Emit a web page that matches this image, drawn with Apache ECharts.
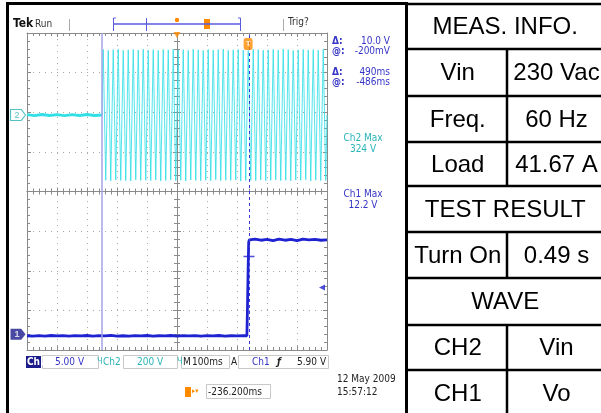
<!DOCTYPE html>
<html><head><meta charset="utf-8">
<script src="https://cdn.jsdelivr.net/npm/echarts@6/dist/echarts.min.js"></script>
<style>html,body{margin:0;padding:0;background:#fff}#c{width:601px;height:413px}</style>
</head><body><div id="c"></div>
<script>
// ---- data (screen time in ms, 100 ms/div) ----
const timeMin = 0, timeMax = 1000, timeStep = 100;
const cursorTimes = [250, 740];
const triggerTime = 737;
const triggerLevel = 5.9;          // V on Ch1
const cursorLevel = 9.8;           // V on Ch1 at cursor 2
const ch2OnTime = 250;
const ch2HalfPeriod = 8.333;       // 60 Hz
const ch2Off = [[0,2],[25,-3],[50,3],[75,-2],[100,2],[125,-3],[150,2],[175,-2],[200,3],[225,-2],[250,0]];
const ch2Peaks = [
 331,-329,327,-332,330,-328,333,-330,326,-331,
 329,-333,331,-327,328,-330,332,-329,327,-331,
 330,-328,326,-332,331,-330,329,-327,333,-331,
 328,-329,330,-333,327,-328,332,-330,329,-331,
 326,-329,331,-332,328,-327,330,-331,333,-329,
 327,-330,329,-328,331,-333,328,-330,326,-329,
 332,-331,330,-328,327,-332,329,-330,331,-327,
 328,-331,333,-329,330,-332,326,-328,329,-330,
 331,-327,328,-333,330,-329,327,-331,332,-330];
const ch1Trace = [[0,-0.2],[20,-0.25],[40,-0.18],[60,-0.24],[80,-0.17],[100,-0.23],[120,-0.19],[140,-0.25],[160,-0.18],[180,-0.22],
 [200,-0.17],[220,-0.24],[240,-0.19],[260,-0.23],[280,-0.16],[300,-0.24],[320,-0.2],[340,-0.25],[360,-0.18],[380,-0.22],
 [400,-0.17],[420,-0.24],[440,-0.2],[460,-0.23],[480,-0.17],[500,-0.25],[520,-0.19],[540,-0.22],[560,-0.18],[580,-0.24],
 [600,-0.19],[620,-0.23],[640,-0.17],[660,-0.24],[680,-0.2],[700,-0.22],[720,-0.18],[733,-0.2],
 [735,3.5],[737,8],[739,11.6],[741,11.9],
 [760,12.0],[780,11.85],[800,11.95],[820,11.8],[840,12.0],[860,11.85],[880,11.95],[900,11.8],[920,12.0],[940,11.9],[960,11.95],[980,11.85],[1000,11.9]];
const readouts = ['Δ:', '10.0 V', '@:', '-200mV', 'Δ:', '490ms', '@:', '-486ms'];
const maxLabels = ['Ch2 Max', '324 V', 'Ch1 Max', '12.2 V'];
const statusTexts = ['Ch1', '5.00 V', 'Ch2', '200 V', 'M', '100ms', 'A', 'Ch1', 'ƒ', '5.90 V'];
const tableRows = [['MEAS. INFO.'], ['Vin', '230 Vac'], ['Freq.', '60 Hz'], ['Load', '41.67 A'],
  ['TEST RESULT'], ['Turn On', '0.49 s'], ['WAVE'], ['CH2', 'Vin'], ['CH1', 'Vo']];

// ---- build ----
const ch2On = [[ch2OnTime, 0]];
ch2Peaks.forEach((v, k) => ch2On.push([ch2OnTime + ch2HalfPeriod / 2 + k * ch2HalfPeriod, v]));
ch2On.push([timeMax, 0]);

const CY = '#33dfe6', CYT = '#2ab4b8', BL = '#1f22d0', BLT = '#3535c6', GR = '#8a8a8a', OR = '#ff8a00';
const tekFont = "'DejaVu Sans Condensed','Liberation Sans Narrow','DejaVu Sans',sans-serif";
const tblFont = "24px 'Liberation Sans', Arial, sans-serif";

function xAx(extra) {
  return Object.assign({type:'value', gridIndex:0, min:timeMin, max:timeMax, interval:timeStep,
    axisLabel:{show:false}, splitLine:{show:false},
    axisLine:{show:true, onZero:false, lineStyle:{color:GR, width:1}},
    axisTick:{show:true, inside:true, length:4, lineStyle:{color:GR}},
    minorTick:{show:true, splitNumber:5, length:3, lineStyle:{color:GR}}}, extra);
}
function yAx(extra) {
  return Object.assign({type:'value', gridIndex:0, min:-4, max:4, interval:1,
    axisLabel:{show:false}, splitLine:{show:false},
    axisLine:{show:true, onZero:false, lineStyle:{color:GR, width:1}},
    axisTick:{show:true, inside:true, length:4, lineStyle:{color:GR}},
    minorTick:{show:true, splitNumber:5, length:3, lineStyle:{color:GR}}}, extra);
}
const dotted = {show:true, lineStyle:{color:'#a8a8a8', width:1, type:[1,5]}};

const graphics = [];
function T(x, y, text, fill, font, align, va) {
  graphics.push({type:'text', x, y, silent:true, z:100, style:{text, fill, font,
    align:align||'left', verticalAlign:va||'middle', textAlign:align||'left', textVerticalAlign:va||'middle'}});
}
function L(x1, y1, x2, y2, stroke, w, dash) {
  graphics.push({type:'line', silent:true, z:90, shape:{x1, y1, x2, y2}, style:{stroke, lineWidth:w||1, lineDash:dash||null}});
}
function R(x, y, w, h, fill, stroke, lw) {
  graphics.push({type:'rect', silent:true, z:80, shape:{x, y, width:w, height:h}, style:{fill:fill||'none', stroke:stroke||'none', lineWidth:lw||1}});
}

// frame
R(6, 2, 3, 411, '#000');
R(6, 2, 402, 3, '#000');
// top bar
T(13, 24, 'Tek', '#111', 'bold 12px ' + tekFont);
T(35, 24, 'Run', '#333', '10px ' + tekFont);
L(69.5, 19, 69.5, 31, '#aaa', 1);
L(113, 24, 241, 24, '#5a5ae0', 1.5);
L(113.5, 18, 113.5, 31, '#5a5ae0', 1); L(113.5, 18, 116, 18, '#5a5ae0', 1);
L(240.5, 18, 240.5, 31, '#5a5ae0', 1); L(240.5, 18, 238, 18, '#5a5ae0', 1);
L(146.5, 18, 146.5, 31, '#5a5ae0', 1);
graphics.push({type:'circle', silent:true, z:95, shape:{cx:177, cy:20, r:2.2}, style:{fill:OR}});
R(204, 19, 6, 10, OR);
L(283.5, 19, 283.5, 31, '#aaa', 1);
T(288, 22, 'Trig?', '#333', '10px ' + tekFont);
// readouts
const rdY = [41, 51, 72, 82];
for (let i = 0; i < 4; i++) {
  T(332, rdY[i], readouts[2*i], BLT, 'bold 10px ' + tekFont);
  T(390, rdY[i], readouts[2*i+1], BLT, '10px ' + tekFont, 'right');
}
T(363, 138, maxLabels[0], CYT, '10px ' + tekFont, 'center');
T(363, 149, maxLabels[1], CYT, '10px ' + tekFont, 'center');
T(363, 194, maxLabels[2], BLT, '10px ' + tekFont, 'center');
T(363, 205, maxLabels[3], BLT, '10px ' + tekFont, 'center');
// status row
R(26, 356, 15, 12, '#1b1b8c');
T(27, 362, statusTexts[0], '#fff', 'bold 10px ' + tekFont);
R(42.5, 355.5, 56, 13, null, '#c8c8c8');
T(55, 362, statusTexts[1], BLT, '10px ' + tekFont);
T(97, 362, 'Ч', CYT, '9px ' + tekFont);
T(103, 362, statusTexts[2], CYT, '10px ' + tekFont);
R(123.5, 355.5, 54, 13, null, '#c8c8c8');
T(137, 362, statusTexts[3], CYT, '10px ' + tekFont);
T(177, 362, 'Ч', CYT, '9px ' + tekFont);
T(183, 362, statusTexts[4], '#222', '10px ' + tekFont);
T(192, 362, statusTexts[5], '#222', '10px ' + tekFont);
R(181.5, 355.5, 48, 13, null, '#c8c8c8');
T(231, 362, statusTexts[6], '#222', '10px ' + tekFont);
R(238.5, 355.5, 90, 13, null, '#c8c8c8');
T(252, 362, statusTexts[7], BLT, '10px ' + tekFont);
T(277, 362, statusTexts[8], '#222', 'italic bold 10px ' + tekFont);
T(297, 362, statusTexts[9], '#222', '10px ' + tekFont);
// second status line
R(185, 387, 6, 10, OR);
T(192, 391, '▸▾', OR, '7px ' + tekFont);
R(206.5, 384.5, 64, 14, null, '#c8c8c8');
T(208, 392, '-236.200ms', '#222', '10px ' + tekFont);
T(337, 379, '12 May 2009', '#222', '10px ' + tekFont);
T(337, 392, '15:57:12', '#222', '10px ' + tekFont);

// table
const rowY = [4, 49, 96, 142, 186, 232, 278, 325, 370, 416];
const colL = 406.5, colM = 507, colR = 604;
R(405, 2, 3, 411, '#000');
for (let i = 0; i < rowY.length - 1; i++) {
  L(colL, rowY[i], colR, rowY[i], '#000', 2.5);
  const cy = (rowY[i] + rowY[i+1]) / 2 + 1;
  const row = tableRows[i];
  if (row.length === 1) {
    T((colL + colR) / 2, cy, row[0], '#000', tblFont, 'center');
  } else {
    L(colM, rowY[i], colM, rowY[i+1], '#000', 2.5);
    T((colL + colM) / 2 + 1, cy, row[0], '#000', tblFont, 'center');
    T((colM + colR) / 2 + 1, cy, row[1], '#000', tblFont, 'center');
  }
}

const option = {
  animation:false,
  backgroundColor:'#fff',
  grid:[{left:27, top:33, width:300, height:317, containLabel:false, outerBoundsMode:'none'}],
  xAxis:[
    xAx({position:'bottom', splitLine:dotted}),
    xAx({position:'top'}),
    xAx({position:'bottom', axisLine:{show:true, onZero:true, onZeroAxisIndex:0, lineStyle:{color:GR}}}),
    xAx({position:'bottom', axisLine:{show:true, onZero:true, onZeroAxisIndex:0, lineStyle:{color:GR}}, axisTick:{show:true, inside:false, length:4, lineStyle:{color:GR}}}),
    {type:'value', gridIndex:0, min:-500, max:500, show:false}
  ],
  yAxis:[
    yAx({position:'left', splitLine:dotted}),
    yAx({position:'right'}),
    yAx({position:'left', axisLine:{show:true, onZero:true, onZeroAxisIndex:4, lineStyle:{color:GR}}}),
    yAx({position:'left', axisLine:{show:true, onZero:true, onZeroAxisIndex:4, lineStyle:{color:GR}}, axisTick:{show:true, inside:false, length:4, lineStyle:{color:GR}}}),
    {type:'value', gridIndex:0, min:-1186, max:414, show:false},
    {type:'value', gridIndex:0, min:-2, max:38, show:false}
  ],
  series:[
    {type:'line', name:'cursors', xAxisIndex:0, yAxisIndex:5, data:[], silent:true,
     markLine:{silent:true, symbol:'none', label:{show:false}, animation:false,
       data:[{xAxis:cursorTimes[0], lineStyle:{color:'#a3a3e6', width:1.5, type:'solid'}},
             {xAxis:cursorTimes[1], lineStyle:{color:'#3a3ad6', width:1, type:[3,3]}}]}},
    {type:'line', name:'Ch2 off', xAxisIndex:0, yAxisIndex:4, data:ch2Off, symbol:'none', silent:true,
     lineStyle:{color:CY, width:3}},
    {type:'line', name:'Ch2', xAxisIndex:0, yAxisIndex:4, data:ch2On, symbol:'none', silent:true,
     lineStyle:{color:CY, width:0.85}},
    {type:'line', name:'Ch1', xAxisIndex:0, yAxisIndex:5, data:ch1Trace, symbol:'none', silent:true,
     lineStyle:{color:BL, width:2.8}},
    {type:'scatter', xAxisIndex:0, yAxisIndex:5, silent:true, z:20,
     data:[{value:[timeMin, 0], symbol:'path://M0,0L10,0L14,5L10,10L0,10Z', symbolSize:[15,11], symbolOffset:[-9,0],
            itemStyle:{color:'#1b1b8c'}, label:{show:true, position:'inside', formatter:'1', color:'#fff', fontSize:9, fontWeight:'bold', offset:[-1,0]}},
           {value:[timeMax, triggerLevel], symbol:'triangle', symbolRotate:90, symbolSize:[6,6], symbolOffset:[-5,0], itemStyle:{color:BL}},
           {value:[cursorTimes[1], cursorLevel], symbol:'rect', symbolSize:[11,1.5], itemStyle:{color:BL}}]},
    {type:'scatter', xAxisIndex:0, yAxisIndex:4, silent:true, z:20,
     data:[{value:[timeMin, 0], symbol:'path://M0,0L10,0L14,5L10,10L0,10Z', symbolSize:[15,11], symbolOffset:[-9,0],
            itemStyle:{color:'#fff', borderColor:CYT, borderWidth:1}, label:{show:true, position:'inside', formatter:'2', color:CYT, fontSize:9, offset:[-1,0]}}]},
    {type:'scatter', xAxisIndex:0, yAxisIndex:0, silent:true, z:20,
     data:[{value:[(timeMin+timeMax)/2, 4], symbol:'triangle', symbolRotate:180, symbolSize:[7,6], symbolOffset:[0,2], itemStyle:{color:OR}},
           {value:[triggerTime, 4], symbol:'roundRect', symbolSize:[9,12], symbolOffset:[0,11], itemStyle:{color:OR},
            label:{show:true, position:'inside', formatter:'T', color:'#fff', fontSize:8, fontWeight:'bold'}}]}
  ],
  graphic:{elements:graphics}
};
const chart = echarts.init(document.getElementById('c'), null, {renderer:'canvas'});
chart.setOption(option);
</script></body></html>
